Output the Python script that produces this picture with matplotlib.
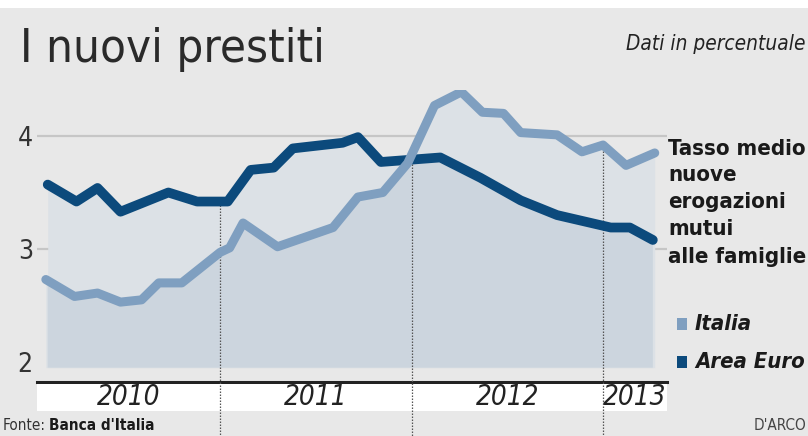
import matplotlib
matplotlib.use('Agg')

import matplotlib.pyplot as plt
import matplotlib.font_manager as fm
from matplotlib.patches import Rectangle
import numpy as np

# the original uses a narrow face: collect the narrow / condensed ones installed
cond = ('condensed', 'semi-condensed', 'extra-condensed', 'ultra-condensed')
narrow_faces = [f for f in fm.fontManager.ttflist
                if 'Narrow' in f.name or 'Condensed' in f.name or f.stretch in cond]

def wnum(w):
    if isinstance(w, str):
        return fm.weight_dict.get(w, 400)
    return w

def face(size, bold=False, italic=False):
    if not narrow_faces:
        return fm.FontProperties(family='DejaVu Sans', size=size,
                                 weight='bold' if bold else 'normal',
                                 style='italic' if italic else 'normal')
    target = 700 if bold else 400
    best = min(narrow_faces,
               key=lambda f: abs(wnum(f.weight) - target)
               + (0 if (f.style != 'normal') == italic else 1000))
    return fm.FontProperties(fname=best.fname, size=size)

# data (x in decimal years, y in %)
italia_x = [2010.09, 2010.24, 2010.36, 2010.48, 2010.59, 2010.68, 2010.80, 2011.00,
            2011.05, 2011.12, 2011.30, 2011.59, 2011.72, 2011.85, 2011.98, 2012.12,
            2012.26, 2012.37, 2012.48, 2012.57, 2012.76, 2012.89, 2013.00, 2013.12,
            2013.27]
italia_y = [2.73, 2.58, 2.61, 2.53, 2.55, 2.70, 2.70, 2.97,
            3.01, 3.23, 3.02, 3.19, 3.46, 3.50, 3.76, 4.27,
            4.39, 4.21, 4.20, 4.03, 4.01, 3.86, 3.92, 3.74,
            3.85]
euro_x = [2010.10, 2010.25, 2010.36, 2010.48, 2010.73, 2010.88, 2011.04, 2011.16,
          2011.28, 2011.38, 2011.64, 2011.72, 2011.84, 2012.15, 2012.36, 2012.57,
          2012.76, 2013.04, 2013.14, 2013.26]
euro_y = [3.57, 3.42, 3.54, 3.33, 3.50, 3.42, 3.42, 3.70,
          3.72, 3.89, 3.94, 3.99, 3.77, 3.81, 3.63, 3.43,
          3.30, 3.19, 3.19, 3.08]

years = [2010, 2011, 2012, 2013]
y_ticks = [2, 3, 4]
title_lines = ["Tasso medio", "nuove", "erogazioni", "mutui", "alle famiglie"]

c_italia = "#7f9fc0"
c_euro = "#0c4a7c"
c_bg = "#e8e8e8"
c_fill_light = "#dce1e6"
c_fill_dark = "#ccd5de"

W, H = 808, 436
fig = plt.figure(figsize=(W / 100, H / 100), dpi=100, facecolor="white")
renderer = fig.canvas.get_renderer()

def fx(px):
    return px / W

def fy(py):
    return 1 - py / H

def fit(t, max_w):
    # shrink a text until it is no wider than max_w pixels
    for _ in range(40):
        w = t.get_window_extent(renderer=renderer).width
        if w <= max_w:
            break
        t.set_fontsize(t.get_fontsize() * max(0.9, max_w / w))
    return t

# gray background panel
fig.patches.append(Rectangle((0, 0), 1, fy(8), transform=fig.transFigure,
                             facecolor=c_bg, edgecolor="none", zorder=-10))

ax = fig.add_axes([fx(37), fy(382), fx(667) - fx(37), fy(90) - fy(382)])
ax.set_facecolor("none")
ax.set_xlim(2010.044, 2013.334)
ax.set_ylim(1.823, 4.407)

for s in ["top", "right", "left"]:
    ax.spines[s].set_visible(False)
ax.spines["bottom"].set_color("#222222")
ax.spines["bottom"].set_linewidth(2.2)

ax.set_xticks([])
ax.set_yticks(y_ticks)
ax.set_yticklabels([str(v) for v in y_ticks], fontproperties=face(19), color="#333333")
ax.tick_params(axis="y", length=0, pad=3)

for v in y_ticks[1:]:
    ax.axhline(v, color="#c6c6c6", lw=1.6, zorder=1)

base = 1.95
f1 = ax.fill_between(euro_x, euro_y, base, color=c_fill_light, lw=0, zorder=2)
f2 = ax.fill_between(italia_x, italia_y, base, color=c_fill_light, lw=0, zorder=2)
# darker area: under both lines
f3 = ax.fill_between(italia_x, italia_y, base, color=c_fill_dark, lw=0, zorder=3)
f3.set_clip_path(f1.get_paths()[0], transform=ax.transData)

# year separators
for yr in years[1:]:
    top = max(np.interp(yr, italia_x, italia_y), np.interp(yr, euro_x, euro_y))
    ax.plot([yr, yr], [top, 1.34], color="#555555", lw=0.9, ls=(0, (1.2, 1.2)),
            clip_on=False, zorder=6)

ax.plot(euro_x, euro_y, color=c_euro, lw=7, solid_capstyle="round",
        solid_joinstyle="round", zorder=7)
ax.plot(italia_x, italia_y, color=c_italia, lw=6.5, solid_capstyle="round",
        solid_joinstyle="round", zorder=8)

# white band with years
ax.add_patch(Rectangle((0, -0.0993), 1, 0.092, transform=ax.transAxes,
                       facecolor="white", edgecolor="none", clip_on=False, zorder=4))
lo, hi = ax.get_xlim()
edges = [lo] + years[1:] + [hi]
for i, yr in enumerate(years):
    xm = (edges[i] + edges[i + 1]) / 2
    ax.text(xm, -0.052, str(yr), transform=ax.get_xaxis_transform(), ha="center",
            va="center", fontproperties=face(20, italic=True), color="#222222", zorder=5)

# titles
fit(fig.text(fx(20), fy(62), "I nuovi prestiti", fontproperties=face(40),
             color="#2a2a2a", ha="left", va="baseline"), 305)
fit(fig.text(fx(805), fy(50), "Dati in percentuale", fontproperties=face(18, italic=True),
             color="#222222", ha="right", va="baseline"), 180)

side = []
for line, py in zip(title_lines, [155, 181, 208, 235, 263]):
    side.append(fig.text(fx(668), fy(py), line, fontproperties=face(21, bold=True),
                         color="#1a1a1a", ha="left", va="baseline"))
fit(side[-1], 139)
for t in side:
    t.set_fontsize(side[-1].get_fontsize())

# legend
leg = []
for name, col, py in [("Italia", c_italia, 330), ("Area Euro", c_euro, 368)]:
    fig.patches.append(Rectangle((fx(677), fy(py)), fx(10), fy(py - 12) - fy(py),
                                 transform=fig.transFigure, facecolor=col,
                                 edgecolor="none"))
    leg.append(fig.text(fx(695), fy(py), name, fontproperties=face(17, bold=True, italic=True),
                        color="#1a1a1a", ha="left", va="baseline"))
fit(leg[-1], 110)
leg[0].set_fontsize(leg[-1].get_fontsize())

# source
t1 = fig.text(fx(3), fy(430), "Fonte:", fontproperties=face(11), color="#333333",
              ha="left", va="baseline")
ax.annotate("Banca d'Italia", xy=(1, 0), xycoords=t1, xytext=(2, 0),
            textcoords="offset points", fontproperties=face(11, bold=True),
            color="#1a1a1a", ha="left", va="bottom", annotation_clip=False)
fig.text(fx(806), fy(430), "D'ARCO", fontproperties=face(11), color="#444444",
         ha="right", va="baseline")

plt.savefig("out.png", dpi=100, facecolor=fig.get_facecolor())
